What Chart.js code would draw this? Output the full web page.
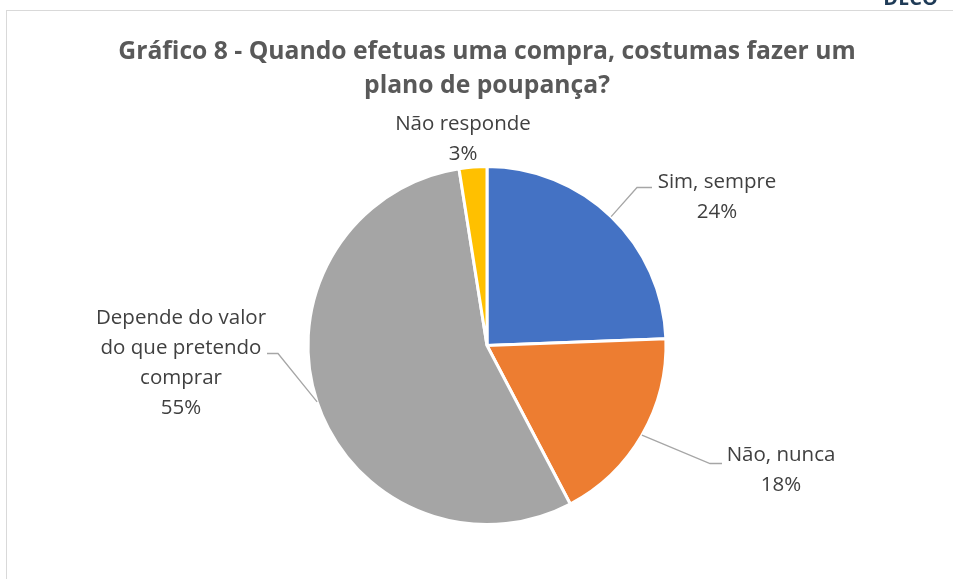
<!DOCTYPE html>
<html>
<head>
<meta charset="utf-8">
<script src="https://cdn.jsdelivr.net/npm/chart.js@4"></script>
<style>
    html, body { margin: 0; padding: 0; background: #fff; }
    #wrap { position: relative; width: 953px; height: 579px; overflow: hidden; }
    #frame { position: absolute; left: 6px; top: 10px; width: 960px; height: 620px; border: 1.5px solid #d9d9d9; box-sizing: border-box; }
    canvas { position: absolute; left: 0; top: 0; }
</style>
</head>
<body>
<div id="wrap">
    <div id="frame"></div>
    <canvas id="myChart" width="953" height="579"></canvas>
</div>
<script>
    // Data-----
    const categories = ['Sim, sempre', 'Não, nunca', 'Depende do valor do que pretendo comprar', 'Não responde'];
    const values = [24.4, 17.9, 55.2, 2.5];
    const labelLines = [
        ['Sim, sempre'],
        ['Não, nunca'],
        ['Depende do valor', 'do que pretendo', 'comprar'],
        ['Não responde']
    ];
    const titleLines = ['Gráfico 8 - Quando efetuas uma compra, costumas fazer um', 'plano de poupança?'];
    // Data-----

    const colors = ['#4472C4', '#ED7D31', '#A5A5A5', '#FFC000'];

    // label placement, relative to pie centre (text centre x, first line y, leader elbow, leader end)
    const labelLayout = [
        {x: 230, y: -163, elbow: [150, -158], end: [165, -158]},
        {x: 294, y: 110, elbow: [223, 118], end: [235, 118]},
        {x: -306, y: -27, elbow: [-209, 8], end: [-220, 8]},
        {x: -24, y: -221, elbow: null, end: null}
    ];

    const labelPlugin = {
        id: 'outLabels',
        afterDraw(chart) {
            const ctx = chart.ctx;
            const meta = chart.getDatasetMeta(0);
            const total = values.reduce((a, b) => a + b, 0);
            ctx.save();

            // title
            ctx.fillStyle = '#595959';
            ctx.font = 'bold 24.7px "Open Sans"';
            ctx.textAlign = 'center';
            ctx.textBaseline = 'middle';
            titleLines.forEach((t, i) => ctx.fillText(t, 487, 52 + i * 34));

            // logo corner
            ctx.fillStyle = '#1f3b57';
            ctx.font = 'bold 20px "Open Sans"';
            ctx.textAlign = 'right';
            ctx.textBaseline = 'alphabetic';
            ctx.fillText('DECO', 938, 5);

            meta.data.forEach((arc, i) => {
                const p = arc.getProps(['x', 'y', 'startAngle', 'endAngle', 'outerRadius'], true);
                const mid = (p.startAngle + p.endAngle) / 2;
                const lay = labelLayout[i];
                if (lay.elbow) {
                    const sx = p.x + Math.cos(mid) * p.outerRadius;
                    const sy = p.y + Math.sin(mid) * p.outerRadius;
                    ctx.strokeStyle = '#a6a6a6';
                    ctx.lineWidth = 1.3;
                    ctx.beginPath();
                    ctx.moveTo(sx, sy);
                    ctx.lineTo(p.x + lay.elbow[0], p.y + lay.elbow[1]);
                    ctx.lineTo(p.x + lay.end[0], p.y + lay.end[1]);
                    ctx.stroke();
                }
                const lines = labelLines[i].concat([Math.round(values[i] / total * 100) + '%']);
                ctx.fillStyle = '#404040';
                ctx.font = '20.5px "Open Sans"';
                ctx.textAlign = 'center';
                ctx.textBaseline = 'middle';
                lines.forEach((t, j) => ctx.fillText(t, p.x + lay.x, p.y + lay.y + j * 30));
            });
            ctx.restore();
        }
    };

    // Config-----
    const config = {
        type: 'pie',
        data: {
            labels: categories,
            datasets: [{
                data: values,
                backgroundColor: colors,
                borderColor: '#ffffff',
                borderWidth: 3,
                hoverOffset: 0
            }]
        },
        options: {
            responsive: false,
            animation: false,
            layout: {
                padding: {top: 165, bottom: 53, left: 99, right: 78}
            },
            plugins: {
                legend: false,
                tooltip: {enabled: false}
            }
        },
        plugins: [labelPlugin]
    };
    // Config-----

    var myChart = new Chart(
        document.getElementById('myChart'),
        config
    );
</script>
</body>
</html>
